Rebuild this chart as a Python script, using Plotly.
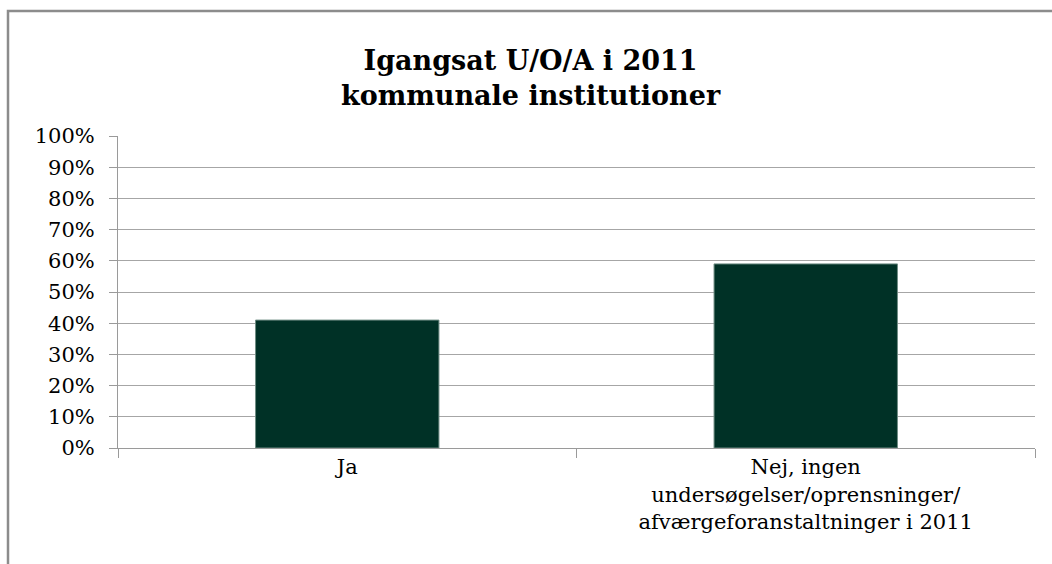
import plotly.graph_objects as go

categories = ["Ja", "Nej, ingen<br>undersøgelser/oprensninger/<br>afværgeforanstaltninger i 2011"]
values = [0.41, 0.59]
tick_vals = [i / 10 for i in range(11)]
tick_text = [f"{i*10}%" for i in range(11)]
title_lines = ["Igangsat U/O/A i 2011", "kommunale institutioner"]

W, H = 1052, 564
ml, mr, mt, mb = 118, 17, 136, 116
pw = W - ml - mr
ph = H - mt - mb

def px_x(x):
    return (x - ml) / pw

def px_y(y):
    return (H - mb - y) / ph

font = "'DejaVu Serif', 'Liberation Serif', serif"

fig = go.Figure(go.Bar(
    x=categories, y=values,
    marker=dict(color="#003126", line=dict(color="#6f8c84", width=1)),
    width=0.4,
))

fig.update_layout(
    width=W, height=H,
    margin=dict(l=ml, r=mr, t=mt, b=mb),
    plot_bgcolor="white", paper_bgcolor="white",
    showlegend=False,
    font=dict(family=font, size=21, color="#000000"),
    bargap=0.6,
)
fig.update_xaxes(
    showgrid=False, showline=True, linecolor="#9a9a9a", linewidth=1,
    ticks="outside", tickson="boundaries", ticklen=9, tickcolor="#9a9a9a",
    tickfont=dict(family=font, size=21, color="#000000"),
)
fig.update_yaxes(
    range=[0, 1.0], tickvals=tick_vals, ticktext=tick_text,
    showgrid=True, gridcolor="#a6a6a6", gridwidth=1.3,
    showline=True, linecolor="#9a9a9a", linewidth=1,
    ticks="outside", ticklen=8, tickcolor="#9a9a9a",
    ticklabelstandoff=10,
    tickfont=dict(family=font, size=21, color="#000000"),
    zeroline=False,
)
fig.add_annotation(
    xref="paper", yref="paper", x=px_x(531), y=px_y(78),
    text="<b>" + title_lines[0] + "<br>" + title_lines[1] + "</b>",
    showarrow=False, xanchor="center", yanchor="middle",
    font=dict(family=font, size=27, color="#000000"),
)
fig.add_shape(
    type="rect", xref="paper", yref="paper",
    x0=px_x(8), y0=px_y(11), x1=px_x(1100), y1=px_y(620),
    line=dict(color="#8c8c8c", width=2.5), fillcolor="rgba(0,0,0,0)", layer="below",
)
fig.write_html(
    "out.html",
    config={"displayModeBar": False},
    post_script="document.body.style.margin='0';document.body.style.padding='0';",
)
